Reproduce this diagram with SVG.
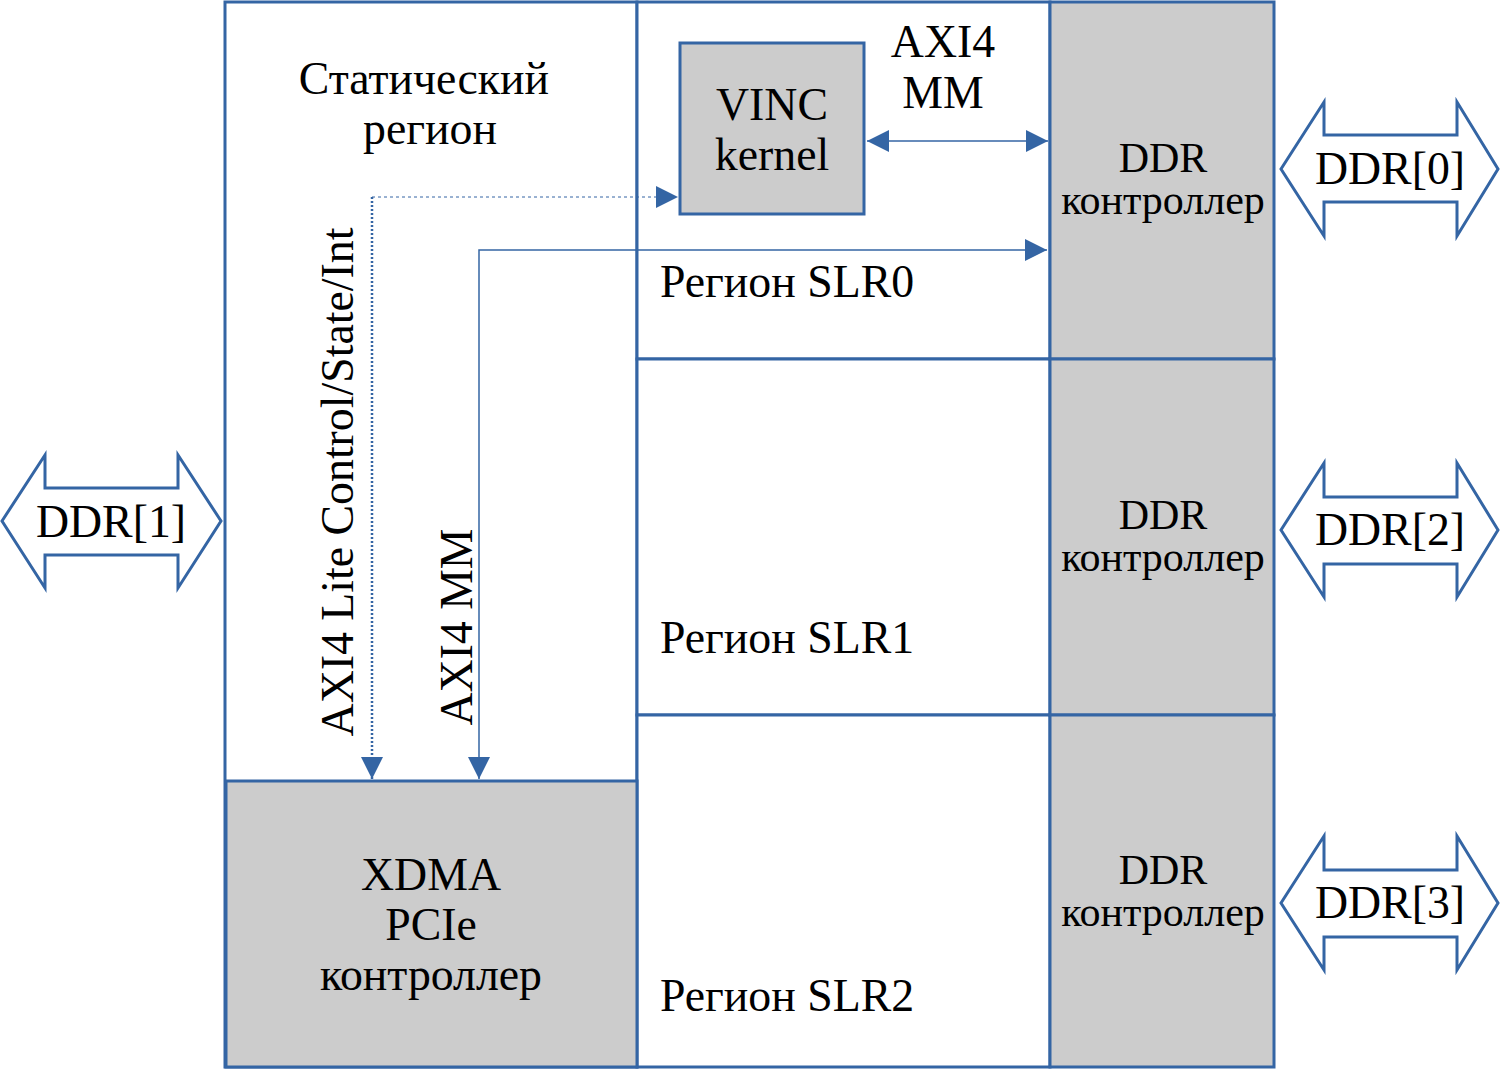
<svg xmlns="http://www.w3.org/2000/svg" width="1500" height="1069" viewBox="0 0 1500 1069">
<defs>
<style>
.box{stroke:#3465a4;stroke-width:3;}
.w{fill:#ffffff;}
.g{fill:#cccccc;}
.t{font-family:"Liberation Serif","Times New Roman",serif;fill:#000;text-anchor:middle;}
.big{font-size:45.8px;}
.mid{font-size:42px;}
.ln{stroke:#3465a4;fill:none;}
.dda{fill:#ffffff;stroke:#3465a4;stroke-width:3;stroke-linejoin:miter;}
</style>
<marker id="ah" viewBox="0 0 10 10" refX="10" refY="5" markerWidth="22" markerHeight="22" markerUnits="userSpaceOnUse" orient="auto-start-reverse">
<path d="M0,0 L10,5 L0,10 z" fill="#3465a4"/>
</marker>
</defs>
<rect width="1500" height="1069" fill="#ffffff"/>

<g id="static-region">
<rect class="box w" x="225" y="2" width="412" height="1065"/>
<text class="t big" x="424" y="94">Статический</text>
<text class="t big" x="430" y="144">регион</text>
</g>

<g id="slr0">
<rect class="box w" x="637" y="2" width="413" height="357"/>
<text class="t big" x="787" y="297">Регион SLR0</text>
</g>
<g id="slr1">
<rect class="box w" x="637" y="359" width="413" height="356"/>
<text class="t big" x="787" y="653">Регион SLR1</text>
</g>
<g id="slr2">
<rect class="box w" x="637" y="715" width="413" height="352"/>
<text class="t big" x="787" y="1011">Регион SLR2</text>
</g>

<g id="ddr-ctrl-0">
<rect class="box g" x="1050" y="2" width="224" height="357"/>
<text class="t mid" x="1163" y="172">DDR</text>
<text class="t mid" x="1163" y="214">контроллер</text>
</g>
<g id="ddr-ctrl-1">
<rect class="box g" x="1050" y="359" width="224" height="356"/>
<text class="t mid" x="1163" y="529">DDR</text>
<text class="t mid" x="1163" y="571">контроллер</text>
</g>
<g id="ddr-ctrl-2">
<rect class="box g" x="1050" y="715" width="224" height="352"/>
<text class="t mid" x="1163" y="884">DDR</text>
<text class="t mid" x="1163" y="926">контроллер</text>
</g>

<g id="xdma">
<rect class="box g" x="226" y="781" width="411" height="286"/>
<text class="t big" x="431" y="890">XDMA</text>
<text class="t big" x="431" y="940">PCIe</text>
<text class="t big" x="431" y="990">контроллер</text>
</g>

<g id="vinc">
<rect class="box g" x="680" y="43" width="184" height="171"/>
<text class="t big" x="772" y="120">VINC</text>
<text class="t big" x="772" y="170">kernel</text>
</g>

<g id="ddr0">
<path class="dda" d="M1281,169 L1324,102 L1324,135 L1457,135 L1457,102 L1498,169 L1457,236 L1457,202 L1324,202 L1324,236 Z"/>
<text class="t big" x="1390" y="184">DDR[0]</text>
</g>
<g id="ddr1">
<path class="dda" d="M2,521 L45,455 L45,488 L178,488 L178,455 L221,521 L178,588 L178,555 L45,555 L45,588 Z"/>
<text class="t big" x="111" y="537">DDR[1]</text>
</g>
<g id="ddr2">
<path class="dda" d="M1281,530 L1324,463 L1324,497 L1457,497 L1457,463 L1498,530 L1457,597 L1457,564 L1324,564 L1324,597 Z"/>
<text class="t big" x="1390" y="545">DDR[2]</text>
</g>
<g id="ddr3">
<path class="dda" d="M1281,903 L1324,836 L1324,870 L1457,870 L1457,836 L1498,903 L1457,970 L1457,937 L1324,937 L1324,970 Z"/>
<text class="t big" x="1390" y="918">DDR[3]</text>
</g>

<g id="connectors">
<path class="ln" d="M867,141 L1048,141" stroke-width="1.5" marker-start="url(#ah)" marker-end="url(#ah)"/>
<path class="ln" d="M479,779 L479,250 L1047,250" stroke-width="1.5" marker-start="url(#ah)" marker-end="url(#ah)"/>
<path class="ln" d="M372,197 L678,197" stroke-width="1" stroke-dasharray="3,3" marker-end="url(#ah)"/>
<path class="ln" d="M372,197 L372,779" stroke-width="2.5" stroke-dasharray="2,2" marker-end="url(#ah)"/>
</g>

<g id="labels">
<text class="t big" x="943" y="57">AXI4</text>
<text class="t big" x="943" y="108">MM</text>
<text class="t big" transform="translate(353,482) rotate(-90)">AXI4 Lite Control/State/Int</text>
<text class="t big" transform="translate(472,627) rotate(-90)">AXI4 MM</text>
</g>
</svg>
